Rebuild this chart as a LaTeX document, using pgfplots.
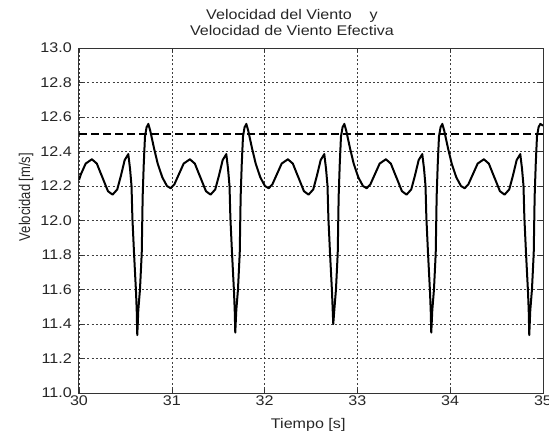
\documentclass[border=0pt]{standalone}
\usepackage{pgfplots}
\pgfplotsset{compat=1.18}
\usepackage{fontspec}
\setmainfont{Liberation Sans}[FakeStretch=1.15]
\newfontfamily\plainsans{Liberation Sans}
\pgfplotstableread{
t v
30.000 12.235
30.022 12.27
30.072 12.33
30.139 12.355
30.192 12.33
30.252 12.25
30.312 12.17
30.362 12.15
30.412 12.18
30.452 12.26
30.492 12.35
30.531 12.385
30.550 12.30
30.566 12.20
30.575 12.02
30.593 11.81
30.614 11.59
30.622 11.48
30.628 11.336
30.639 11.48
30.657 11.60
30.676 11.81
30.686 12.14
30.698 12.33
30.711 12.486
30.728 12.54
30.747 12.56
30.768 12.52
30.808 12.42
30.848 12.33
30.898 12.25
30.948 12.20
30.988 12.187
31.028 12.21
31.078 12.27
31.128 12.33
31.195 12.355
31.248 12.33
31.308 12.25
31.368 12.17
31.418 12.15
31.468 12.18
31.508 12.26
31.548 12.35
31.587 12.385
31.606 12.30
31.622 12.20
31.631 12.02
31.649 11.81
31.670 11.59
31.678 11.48
31.684 11.35
31.695 11.48
31.713 11.60
31.732 11.81
31.742 12.14
31.754 12.33
31.767 12.486
31.784 12.54
31.803 12.56
31.824 12.52
31.864 12.42
31.904 12.33
31.954 12.25
32.004 12.20
32.044 12.187
32.084 12.21
32.134 12.27
32.184 12.33
32.251 12.355
32.304 12.33
32.364 12.25
32.424 12.17
32.474 12.15
32.524 12.18
32.564 12.26
32.604 12.35
32.643 12.385
32.662 12.30
32.678 12.20
32.687 12.02
32.705 11.81
32.726 11.59
32.734 11.48
32.740 11.40
32.751 11.48
32.769 11.60
32.788 11.81
32.798 12.14
32.810 12.33
32.823 12.486
32.840 12.54
32.859 12.56
32.880 12.52
32.920 12.42
32.960 12.33
33.010 12.25
33.060 12.20
33.100 12.187
33.140 12.21
33.190 12.27
33.240 12.33
33.307 12.355
33.360 12.33
33.420 12.25
33.480 12.17
33.530 12.15
33.580 12.18
33.620 12.26
33.660 12.35
33.699 12.385
33.718 12.30
33.734 12.20
33.743 12.02
33.761 11.81
33.782 11.59
33.790 11.48
33.796 11.35
33.807 11.48
33.825 11.60
33.844 11.81
33.854 12.14
33.866 12.33
33.879 12.486
33.896 12.54
33.915 12.56
33.936 12.52
33.976 12.42
34.016 12.33
34.066 12.25
34.116 12.20
34.156 12.187
34.196 12.21
34.246 12.27
34.296 12.33
34.363 12.355
34.416 12.33
34.476 12.25
34.536 12.17
34.586 12.15
34.636 12.18
34.676 12.26
34.716 12.35
34.755 12.385
34.774 12.30
34.790 12.20
34.799 12.02
34.817 11.81
34.838 11.59
34.846 11.48
34.852 11.336
34.863 11.48
34.881 11.60
34.900 11.81
34.910 12.14
34.922 12.33
34.935 12.486
34.952 12.54
34.971 12.56
35.000 12.55
}\windtable
\begin{document}
\begin{tikzpicture}[x=1pt,y=1pt]
\useasboundingbox (0,0) rectangle (549,432);
\begin{axis}[
  at={(79pt,39pt)}, anchor=south west,
  scale only axis, width=464pt, height=345pt,
  xmin=30, xmax=35, ymin=11, ymax=13,
  xtick={30,31,32,33,34,35},
  ytick={11.0,11.2,11.4,11.6,11.8,12.0,12.2,12.4,12.6,12.8,13.0},
  /pgf/number format/assume math mode=true,
  xticklabel style={/pgf/number format/fixed, /pgf/number format/precision=0},
  yticklabel style={/pgf/number format/fixed, /pgf/number format/fixed zerofill, /pgf/number format/precision=1, inner sep=0pt, xshift=-7pt},
  xticklabel style={inner sep=0pt, yshift=-3pt},
  ticklabel style={font=\fontsize{14}{16}\selectfont, text=black!85},
  tick align=inside, major tick length=4pt,
  xtick pos=both, ytick pos=both,
  tick style={black!80, line width=0.6pt},
  axis line style={black!80, line width=1pt},
  grid=major,
  major grid style={black!75, line width=0.6pt, dash pattern=on 2pt off 2.2pt},
  title={Velocidad del Viento\ \ \ \ y\\Velocidad de Viento Efectiva},
  title style={align=center, font=\fontsize{14}{16}\selectfont, text=black!85, at={(rel axis cs:0.459,1.018)}, anchor=south, inner sep=0pt},
  xlabel={Tiempo [s]},
  xlabel style={font=\fontsize{14}{16}\selectfont, text=black!85, at={(rel axis cs:0.494,-0.072)}, anchor=north, inner sep=0pt},
  ylabel={Velocidad [m/s]},
  ylabel style={font=\plainsans\fontsize{13}{15}\selectfont, text=black!85, at={(rel axis cs:-0.114,0.568)}, anchor=center, inner sep=0pt, yscale=1.2},
]
\addplot[black, line width=1.8pt, dash pattern=on 8pt off 4pt, forget plot] coordinates {(30,12.5) (35,12.5)};
\addplot[black, line width=2pt, line join=round, mark=none] table[x=t,y=v] {\windtable};
\end{axis}
\end{tikzpicture}
\end{document}
